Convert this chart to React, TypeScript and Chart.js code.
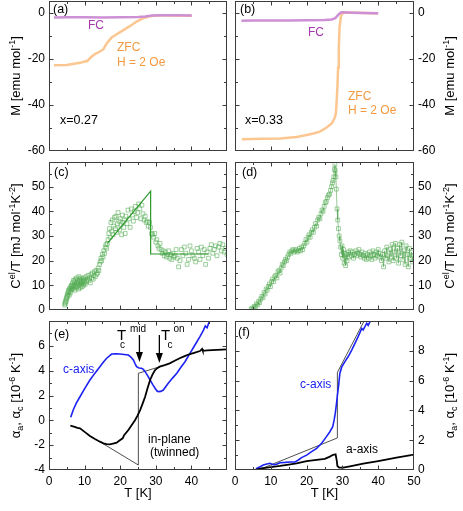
import React, { useEffect, useRef } from "react";
import { Chart, registerables } from "chart.js";

Chart.register(...registerables);

const FONT = "'Liberation Sans', Arial, Helvetica, sans-serif";
const M = 70; // canvas margin around each plot area
const YW = 40; // fixed y-axis box width
const XH = 22; // fixed x-axis box height

// ---------- (a) x = 0.27 magnetization ----------
const aFcT = [1.4, 5, 10, 15, 20, 25, 27, 29, 32, 36, 40.1];
const aFcM = [-2.1, -2.0, -2.0, -2.1, -2.0, -1.9, -1.7, -1.3, -1.2, -1.2, -1.3];
const aZfcT = [1.4, 5.0, 8.7, 10.8, 11.7, 12.9, 14.3, 15.3, 16.2, 17.6, 19.0, 20.9, 22.8, 24.6, 26.5, 28.4, 30.2, 33.0, 36.8, 40.1];
const aZfcM = [-22.8, -22.7, -21.8, -20.9, -19.5, -18.0, -16.9, -15.9, -13.4, -10.8, -9.4, -7.6, -5.8, -3.9, -2.4, -1.6, -1.3, -1.3, -1.4, -1.4];

// ---------- (b) x = 0.33 magnetization ----------
const bFcT = [1.8, 5, 10, 15, 20, 25, 27, 28, 28.5, 29, 29.5, 30, 33, 36, 40];
const bFcM = [-3.6, -3.5, -3.5, -3.4, -3.3, -3.2, -3.0, -2.4, -1.6, -0.7, -0.1, 0.1, -0.1, -0.2, -0.3];
const bZfcT = [1.9, 7.9, 12.6, 17.2, 20.0, 21.9, 23.7, 25.6, 27.0, 27.9, 28.2, 28.4, 28.6, 28.8, 29.0, 29.2, 29.6, 30.3, 34.0, 40.0];
const bZfcM = [-54.9, -54.7, -54.6, -53.9, -53.1, -52.4, -51.6, -49.8, -48.1, -45.5, -43.3, -38.3, -32.5, -23.8, -15.2, -6.5, -1.4, 0, -0.1, -0.4];

// ---------- (c) specific heat x = 0.27 ----------
const cT = [
  4.4, 4.5, 4.6, 4.7, 4.8, 4.9, 5.0, 5.1, 5.2, 5.3, 5.4, 5.5, 5.6, 5.7, 5.8, 5.9, 6.0, 6.1, 6.2, 6.3, 6.4,
  6.5, 6.6, 6.7, 6.8, 6.9, 7.0, 7.1, 7.2, 7.3, 7.4, 7.5, 7.6, 7.7, 7.8, 7.9, 8.0, 8.1, 8.2, 8.3, 8.4,
  8.5, 8.6, 8.7, 8.8, 8.9, 9.0, 9.1, 9.2, 9.3, 9.4, 9.5, 9.6, 9.7, 9.8, 9.9,
  10.0, 10.2, 10.4, 10.6, 10.8, 11.0, 11.2, 11.4, 11.6, 11.8, 12.0, 12.2, 12.4, 12.6, 12.8, 13.0, 13.2, 13.4, 13.6, 13.8,
  14.0, 14.2, 14.4, 14.6, 14.8, 15.0, 15.2, 15.4, 15.6, 15.8, 16.0, 16.2, 16.4,
  16.6, 16.8, 17.0, 17.2, 17.4, 17.6, 17.8, 18.0, 18.2, 18.4, 18.6, 18.8, 19.0, 19.2, 19.4, 19.6, 19.8, 20.0, 20.2, 20.4, 20.6, 20.8, 21.0, 21.2, 21.4,
  21.6, 21.9, 22.2, 22.5, 22.8, 23.1, 23.4, 23.7, 24.0, 24.3, 24.6, 24.9, 25.2, 25.5, 25.8, 26.1, 26.4, 26.7, 27.0, 27.3,
  27.6, 27.9, 28.2, 28.5, 28.8, 29.1, 29.4, 29.7,
  30.0, 30.3, 30.6, 30.9, 31.2, 31.5, 31.8, 32.1, 32.4, 32.7, 33.0, 33.3, 33.6, 33.9, 34.2, 34.5, 34.8, 35.1, 35.4, 35.7,
  36.0, 36.4, 36.8, 37.2, 37.6, 38.0, 38.4, 38.8, 39.2, 39.6, 40.0, 40.4, 40.8, 41.2, 41.6, 42.0, 42.4, 42.8, 43.2, 43.6,
  44.0, 44.4, 44.8, 45.2, 45.6, 46.0, 46.4, 46.8, 47.2, 47.6, 48.0, 48.4, 48.8, 49.2, 49.6, 50.0,
];
const cC = [
  2.0, 3.0, 2.5, 4.0, 3.5, 5.0, 4.5, 6.0, 5.5, 7.0, 6.5, 8.0, 7.5, 6.0, 8.5, 9.0, 7.0, 8.0, 9.5, 10.0, 8.5,
  9.0, 11.0, 10.0, 8.5, 12.0, 9.5, 11.5, 10.5, 8.0, 12.5, 10.0, 9.0, 11.0, 13.0, 10.5, 9.5, 12.0, 11.0, 8.5, 13.5,
  10.0, 12.5, 11.5, 9.0, 10.5, 13.0, 11.0, 12.0, 9.5, 10.5, 12.5, 11.5, 10.0, 13.0, 11.0,
  12.0, 10.5, 13.5, 11.5, 12.5, 14.0, 12.0, 13.0, 11.0, 14.5, 13.0, 15.0, 12.5, 14.0, 15.5, 13.5, 16.0, 14.5, 15.0, 17.0,
  16.0, 18.5, 19.5, 21.0, 20.0, 22.5, 21.5, 24.0, 23.0, 25.5, 26.5, 25.0, 27.0,
  28.5, 31.0, 33.0, 29.5, 35.5, 32.0, 36.5, 30.5, 34.0, 37.5, 33.0, 38.0, 31.5, 35.0, 39.5, 36.0, 32.5, 37.0, 34.5, 30.5, 38.5, 35.5, 33.5, 36.5, 31.0,
  38.0, 35.0, 40.5, 37.0, 33.5, 41.0, 38.5, 36.0, 40.0, 42.0, 37.5, 39.5, 43.0, 41.0, 37.0, 42.5, 39.0, 36.5, 38.0, 35.5,
  36.0, 34.0, 35.5, 33.5, 31.0, 30.5, 29.5, 31.0,
  27.5, 28.5, 26.0, 25.0, 27.0, 24.5, 23.0, 24.0, 22.0, 23.5, 21.5, 22.5, 24.0, 21.0, 22.5, 20.5, 23.0, 21.5, 22.0, 24.5,
  21.0, 17.5, 20.0, 24.5, 22.0, 25.5, 23.0, 18.5, 20.5, 26.0, 24.0, 22.0, 21.0, 19.5, 25.0, 23.5, 20.5, 25.5, 22.0, 24.5,
  18.5, 23.5, 21.0, 25.0, 26.5, 23.0, 24.5, 26.0, 22.0, 25.5, 27.0, 24.0, 26.5, 23.5, 25.0, 22.5,
];
const cFitT = [16.4, 28.55, 28.55, 44.8];
const cFitC = [27.0, 48.2, 22.7, 22.7];

// ---------- (d) specific heat x = 0.33 ----------
const dT = [
  4.5, 4.8, 5.1, 5.4, 5.7, 6.0, 6.3, 6.6, 6.9, 7.2, 7.5, 7.8, 8.1, 8.4, 8.7, 9.0, 9.3, 9.6, 9.9, 10.2,
  10.5, 10.8, 11.1, 11.4, 11.7, 12.0, 12.3, 12.6, 12.9, 13.2, 13.5, 13.8, 14.1, 14.4, 14.7, 15.0, 15.3, 15.6, 15.9, 16.2,
  16.5, 16.8, 17.1, 17.4, 17.7, 18.0, 18.3, 18.6, 18.9, 19.2, 19.5, 19.8, 20.1, 20.4, 20.7, 21.0, 21.3, 21.6, 21.9, 22.2,
  22.5, 22.8, 23.1, 23.4, 23.7, 24.0, 24.3, 24.6, 24.9, 25.2, 25.5, 25.8, 26.1, 26.4, 26.7, 27.0, 27.2, 27.4, 27.6, 27.8,
  27.9, 28.0, 28.2, 28.3, 28.5, 28.7, 28.9, 29.1, 29.3, 29.5, 29.7, 29.9, 30.1, 30.3, 30.5, 30.7, 30.9, 31.1, 31.3, 31.6,
  31.9, 32.2, 32.5, 32.8, 33.1, 33.4, 33.7, 34.0, 34.3, 34.6, 34.9, 35.2, 35.5, 35.8, 36.1, 36.4, 36.7, 37.0, 37.3, 37.6,
  37.9, 38.2, 38.5, 38.8, 39.1, 39.4, 39.7, 40.0, 40.3, 40.6, 40.9, 41.2, 41.5, 41.8, 42.1, 42.4, 42.7, 43.0, 43.3, 43.6,
  43.9, 44.2, 44.5, 44.8, 45.1, 45.4, 45.7, 46.0, 46.3, 46.6, 46.9, 47.2, 47.5, 47.8, 48.1, 48.4, 48.7, 49.0, 49.3, 49.6,
  49.9,
];
const dC = [
  0.3, 0.8, 0.5, 1.5, 1.2, 2.5, 2.0, 3.5, 3.0, 4.5, 5.5, 5.0, 7.0, 6.5, 8.5, 8.0, 9.5, 10.5, 9.5, 11.5,
  12.5, 11.5, 13.5, 14.0, 13.0, 15.5, 16.0, 15.0, 17.0, 18.5, 18.0, 19.5, 20.5, 20.0, 21.5, 22.5, 23.5, 23.0, 24.0, 24.5,
  23.5, 24.0, 24.5, 23.5, 24.0, 25.0, 24.0, 25.5, 24.5, 26.0, 27.0, 28.5, 27.5, 29.5, 30.5, 29.5, 31.5, 32.5, 31.5, 33.5,
  35.0, 34.0, 36.5, 37.5, 37.0, 39.0, 40.5, 40.0, 42.0, 43.5, 44.0, 45.5, 46.5, 47.0, 48.5, 50.0, 51.5, 52.5, 54.0, 57.0,
  59.0, 56.5, 54.0, 49.0, 41.0, 36.5, 33.0, 30.0, 28.0, 25.5, 22.5, 26.0, 21.0, 24.5, 19.0, 23.0, 18.0, 22.5, 20.0, 23.5,
  21.5, 24.0, 22.0, 23.5, 21.0, 22.5, 24.0, 22.0, 23.0, 24.5, 22.5, 21.5, 23.5, 22.0, 21.0, 23.0, 20.5, 22.5, 21.0, 23.5,
  22.0, 20.5, 24.0, 22.5, 21.0, 23.5, 22.0, 24.5, 21.5, 23.0, 20.0, 22.5, 17.5, 24.0, 21.0, 25.5, 22.0, 19.5, 24.5, 21.5,
  26.5, 20.0, 23.5, 27.0, 21.0, 25.0, 19.0, 26.5, 22.0, 27.5, 20.5, 24.0, 18.5, 26.0, 22.5, 17.5, 25.0, 21.0, 23.5, 19.5,
  22.0,
];

// ---------- (e) thermal expansion x = 0.27 ----------
const eCT = [6.1, 6.8, 7.7, 8.7, 10.1, 11.5, 12.9, 14.3, 15.3, 16.2, 17.6, 18.8, 19.9, 21.1, 22.3, 23.0, 23.7, 24.2, 24.6, 25.3, 26.0, 26.5, 27.0, 27.7, 28.4, 29.1, 29.8, 30.3, 30.7, 31.4, 32.1, 33.5, 34.7, 35.9, 37.0, 38.2, 39.6, 41.0, 42.4, 43.4, 43.9, 44.4, 45.2];
const eCA = [0.24, 0.83, 1.4, 1.9, 2.6, 3.25, 3.8, 4.32, 4.7, 5.0, 5.34, 5.36, 5.34, 5.3, 5.26, 5.1, 4.86, 4.55, 4.32, 4.22, 4.19, 4.1, 3.92, 3.6, 3.25, 2.9, 2.58, 2.38, 2.31, 2.33, 2.44, 2.98, 3.4, 3.79, 4.25, 4.72, 5.4, 6.07, 6.74, 7.27, 7.6, 7.45, 8.1];
const eAT = [6.0, 7.0, 8.0, 8.7, 10.1, 11.5, 12.9, 14.3, 15.3, 16.2, 17.1, 18.0, 19.0, 19.9, 20.7, 21.1, 22.3, 23.2, 24.2, 24.9, 25.6, 26.3, 27.0, 27.7, 28.4, 29.1, 29.8, 30.4, 31.1, 32.5, 33.9, 35.3, 36.7, 38.1, 39.6, 41.0, 42.4, 43.0, 43.2, 44.5, 45.8, 47.2, 48.6, 50.0];
const eAA = [-0.43, -0.5, -0.6, -0.64, -0.95, -1.26, -1.5, -1.72, -1.85, -1.91, -1.93, -1.87, -1.8, -1.6, -1.45, -1.2, -0.78, -0.4, 0.03, 0.4, 0.83, 1.35, 1.9, 2.6, 3.25, 3.7, 4.05, 4.2, 4.32, 4.45, 4.59, 4.8, 5.0, 5.17, 5.34, 5.46, 5.58, 5.75, 5.6, 5.63, 5.66, 5.68, 5.7, 5.72];
const eFitT = [15.0, 25.1, 25.1, 31.2];
const eFitA = [-1.85, -3.6, 3.79, 4.32];
const eArrowT = [25.4, 31.0];
const eArrowTop = [6.87, 6.87];
const eArrowTip = [4.7, 4.62];

// ---------- (f) thermal expansion x = 0.33 ----------
const fCT = [6.0, 7.0, 7.9, 8.9, 9.8, 10.7, 11.6, 12.6, 14.0, 15.4, 16.8, 17.7, 18.6, 20.0, 21.4, 22.8, 24.2, 25.4, 26.5, 27.3, 27.7, 28.0, 28.3, 28.6, 29.0, 29.3, 29.8, 30.7, 31.6, 32.6, 33.5, 34.4, 35.4, 35.8, 36.8, 37.2, 38.2];
const fCA = [0.11, 0.22, 0.34, 0.4, 0.45, 0.36, 0.38, 0.49, 0.51, 0.54, 0.54, 0.67, 0.83, 1.0, 1.23, 1.45, 1.79, 2.19, 2.57, 2.91, 3.36, 3.8, 4.36, 5.0, 5.8, 6.5, 6.9, 7.27, 7.6, 8.05, 8.5, 8.95, 9.5, 9.4, 9.85, 9.7, 10.2];
const fAT = [5.8, 7.9, 10.0, 12.6, 15.0, 17.2, 20.0, 22.8, 25.1, 26.5, 27.4, 28.1, 28.4, 28.6, 29.1, 30.2, 32.1, 35.8, 40.0, 45.1, 50.0];
const fAA = [0.05, 0.12, 0.2, 0.27, 0.36, 0.45, 0.6, 0.68, 0.75, 0.9, 1.02, 1.05, 0.67, 0.27, 0.16, 0.16, 0.25, 0.43, 0.6, 0.83, 1.03];
const fFitT = [7.0, 28.6, 28.6, 36.5];
const fFitA = [0.05, 2.15, 6.55, 10.2];

// ---------- axis ticks ----------
const magTicks = [-60, -40, -20, 0];
const heatTicks = [0, 10, 20, 30, 40, 50];
const eTicks = [-4, -2, 0, 2, 4, 6];
const fTicks = [0, 2, 4, 6, 8];

// ---------- colours ----------
const PURPLE_LINE = "#cd90d5";
const PURPLE_TEXT = "#a23aab";
const ORANGE_LINE = "#fcc690";
const ORANGE_TEXT = "#f49a40";
const GREEN_LINE = "#2c982c";
const GREEN_PT = "rgba(80,170,80,0.7)";
const BLUE = "#1c22f2";
const FRAME = "#3c3c3c";

const pts = (xs: number[], ys: number[]) => xs.map((x, i) => ({ x, y: ys[i] }));

function line(xs: number[], ys: number[], color: string, width: number) {
  return {
    data: pts(xs, ys),
    showLine: true,
    borderColor: color,
    backgroundColor: color,
    borderWidth: width,
    pointRadius: 0,
    tension: 0,
  };
}

type Seg = [string, number, number];
const n = (t: string): Seg => [t, 13, 0];
const sup = (t: string): Seg => [t, 9, -5];
const sub = (t: string): Seg => [t, 9, 3];
const TITLE_M: Seg[] = [n("M [emu mol"), sup("-1"), n("]")];
const TITLE_C: Seg[] = [n("C"), sup("el"), n("/T [mJ mol"), sup("-1"), n("K"), sup("-2"), n("]")];
const TITLE_A: Seg[] = [n("\u03b1"), sub("a"), n(", \u03b1"), sub("c"), n(" [10"), sup("-6"), n(" K"), sup("-1"), n("]")];

type Txt = { t: string; x: number; y: number; size: number; color?: string; base?: CanvasTextBaseline };

interface Spec {
  id: string;
  box: [number, number, number, number];
  side: "left" | "right";
  yMin: number;
  yMax: number;
  yLabels: number[];
  yMinor: number;
  yMajor: number;
  xLabels: boolean;
  hide50?: boolean;
  datasets: any[];
  texts: Txt[];
  arrows?: { x: number[]; top: number[]; tip: number[] };
  yTitle: Seg[];
}

function drawRich(ctx: CanvasRenderingContext2D, segs: Seg[], x: number, y: number) {
  let w = 0;
  for (const s of segs) {
    ctx.font = `${s[1]}px ${FONT}`;
    w += ctx.measureText(s[0]).width;
  }
  let cx = x - w / 2;
  for (const s of segs) {
    ctx.font = `${s[1]}px ${FONT}`;
    ctx.fillText(s[0], cx, y + s[2]);
    cx += ctx.measureText(s[0]).width;
  }
}

function panelPlugin(spec: Spec) {
  return {
    id: "panel_" + spec.id,
    afterDatasetsDraw(chart: any) {
      const { ctx, chartArea: a, scales } = chart;
      const xs = scales.x;
      const ys = scales.y;
      ctx.save();
      if (spec.arrows) {
        const ar = spec.arrows;
        ctx.strokeStyle = "#000";
        ctx.fillStyle = "#000";
        ctx.lineWidth = 1.3;
        ar.x.forEach((xv, i) => {
          const px = xs.getPixelForValue(xv);
          const p0 = ys.getPixelForValue(ar.top[i]);
          const p1 = ys.getPixelForValue(ar.tip[i]);
          ctx.beginPath();
          ctx.moveTo(px, p0);
          ctx.lineTo(px, p1 - 7);
          ctx.stroke();
          ctx.beginPath();
          ctx.moveTo(px - 3.5, p1 - 10);
          ctx.lineTo(px + 3.5, p1 - 10);
          ctx.lineTo(px, p1);
          ctx.closePath();
          ctx.fill();
        });
      }
      ctx.strokeStyle = FRAME;
      ctx.lineWidth = 1;
      const L = Math.round(a.left) + 0.5;
      const R = Math.round(a.right) - 0.5;
      const T = Math.round(a.top) + 0.5;
      const B = Math.round(a.bottom) - 0.5;
      ctx.strokeRect(L, T, R - L, B - T);
      ctx.beginPath();
      for (let v = 5; v < 50; v += 5) {
        const len = v % 10 === 0 ? 4 : 2.5;
        const p = Math.round(xs.getPixelForValue(v)) + 0.5;
        ctx.moveTo(p, B);
        ctx.lineTo(p, B - len);
        ctx.moveTo(p, T);
        ctx.lineTo(p, T + len);
      }
      for (let v = spec.yMin + spec.yMinor; v < spec.yMax - 1e-9; v += spec.yMinor) {
        const major = Math.abs(Math.round(v / spec.yMajor) * spec.yMajor - v) < 1e-6;
        const len = major ? 4 : 2.5;
        const p = Math.round(ys.getPixelForValue(v)) + 0.5;
        ctx.moveTo(L, p);
        ctx.lineTo(L + len, p);
        ctx.moveTo(R, p);
        ctx.lineTo(R - len, p);
      }
      ctx.stroke();
      ctx.restore();
    },
    afterDraw(chart: any) {
      const { ctx, chartArea: a } = chart;
      const ox = spec.box[0] - M;
      const oy = spec.box[1] - M;
      ctx.save();
      ctx.textAlign = "left";
      for (const t of spec.texts) {
        ctx.font = `${t.size}px ${FONT}`;
        ctx.fillStyle = t.color || "#000";
        ctx.textBaseline = t.base || "middle";
        ctx.fillText(t.t, t.x - ox, t.y - oy);
      }
      ctx.fillStyle = "#000";
      ctx.textBaseline = "alphabetic";
      const bx = spec.side === "left" ? a.left - 29 : a.right + 40;
      const cy = (a.top + a.bottom) / 2;
      ctx.save();
      ctx.translate(bx, cy);
      ctx.rotate(-Math.PI / 2);
      drawRich(ctx, spec.yTitle, 0, 0);
      ctx.restore();
      if (spec.xLabels) {
        ctx.font = `13px ${FONT}`;
        ctx.textAlign = "center";
        ctx.textBaseline = "middle";
        ctx.fillText("T [K]", (a.left + a.right) / 2, a.bottom + 23);
      }
      ctx.restore();
    },
  };
}

function buildConfig(spec: Spec): any {
  const left = spec.side === "left";
  const tickFont = { family: FONT, size: 12 };
  const xScale: any = {
    type: "linear",
    min: 0,
    max: 50,
    display: spec.xLabels,
    position: "bottom",
    grid: { display: false, drawTicks: false },
    border: { display: false },
    ticks: {
      stepSize: 10,
      font: tickFont,
      color: "#000",
      padding: 4,
      maxRotation: 0,
      autoSkip: false,
      callback: (v: number) => (spec.hide50 && v === 50 ? "" : String(v)),
    },
  };
  if (spec.xLabels) {
    xScale.afterFit = (s: any) => {
      s.height = XH;
    };
  }
  return {
    type: "scatter",
    data: { datasets: spec.datasets },
    options: {
      responsive: false,
      animation: false,
      events: [],
      layout: {
        padding: {
          left: left ? M - YW : M,
          right: left ? M : M - YW,
          top: M,
          bottom: spec.xLabels ? M - XH : M,
        },
      },
      plugins: { legend: { display: false }, tooltip: { enabled: false }, title: { display: false } },
      scales: {
        x: xScale,
        y: {
          type: "linear",
          min: spec.yMin,
          max: spec.yMax,
          position: spec.side,
          grid: { display: false, drawTicks: false },
          border: { display: false },
          ticks: { font: tickFont, color: "#000", padding: 4, autoSkip: false, callback: (v: number) => String(v) },
          afterBuildTicks: (s: any) => {
            s.ticks = spec.yLabels.map((v) => ({ value: v }));
          },
          afterFit: (s: any) => {
            s.width = YW;
          },
        },
      },
    },
    plugins: [panelPlugin(spec)],
  };
}

const squares = (xs: number[], ys: number[], withLine: boolean) => ({
  data: pts(xs, ys),
  showLine: withLine,
  borderColor: "rgba(60,150,60,0.75)",
  borderWidth: 0.7,
  pointStyle: "rect",
  pointRadius: 2.7,
  pointBorderWidth: 0.8,
  pointBorderColor: GREEN_PT,
  pointBackgroundColor: "rgba(0,0,0,0)",
  tension: 0,
});

const specs: Spec[] = [
  {
    id: "a",
    box: [49, 1, 227, 151],
    side: "left",
    yMin: -60,
    yMax: 5,
    yLabels: magTicks,
    yMinor: 10,
    yMajor: 20,
    xLabels: false,
    datasets: [line(aFcT, aFcM, PURPLE_LINE, 2.5), line(aZfcT, aZfcM, ORANGE_LINE, 2.5)],
    texts: [
      { t: "(a)", x: 53, y: 10, size: 12.5 },
      { t: "FC", x: 88, y: 26, size: 12, color: PURPLE_TEXT },
      { t: "ZFC", x: 117, y: 48, size: 12, color: ORANGE_TEXT },
      { t: "H = 2 Oe", x: 117, y: 63, size: 12, color: ORANGE_TEXT },
      { t: "x=0.27", x: 60, y: 121, size: 12.5 },
    ],
    yTitle: TITLE_M,
  },
  {
    id: "b",
    box: [235, 1, 414, 151],
    side: "right",
    yMin: -60,
    yMax: 5,
    yLabels: magTicks,
    yMinor: 10,
    yMajor: 20,
    xLabels: false,
    datasets: [line(bFcT, bFcM, PURPLE_LINE, 2.5), line(bZfcT, bZfcM, ORANGE_LINE, 2.5)],
    texts: [
      { t: "(b)", x: 240, y: 10, size: 12.5 },
      { t: "FC", x: 308, y: 32.5, size: 12, color: PURPLE_TEXT },
      { t: "ZFC", x: 348, y: 97, size: 12, color: ORANGE_TEXT },
      { t: "H = 2 Oe", x: 348, y: 111, size: 12, color: ORANGE_TEXT },
      { t: "x=0.33", x: 245, y: 121, size: 12.5 },
    ],
    yTitle: TITLE_M,
  },
  {
    id: "c",
    box: [49, 162, 227, 310],
    side: "left",
    yMin: 0,
    yMax: 60,
    yLabels: heatTicks,
    yMinor: 5,
    yMajor: 10,
    xLabels: false,
    datasets: [line(cFitT, cFitC, GREEN_LINE, 1.2), squares(cT, cC, false)],
    texts: [{ t: "(c)", x: 54, y: 173, size: 12.5 }],
    yTitle: TITLE_C,
  },
  {
    id: "d",
    box: [235, 162, 414, 310],
    side: "right",
    yMin: 0,
    yMax: 60,
    yLabels: heatTicks,
    yMinor: 5,
    yMajor: 10,
    xLabels: false,
    datasets: [squares(dT, dC, true)],
    texts: [{ t: "(d)", x: 242, y: 173, size: 12.5 }],
    yTitle: TITLE_C,
  },
  {
    id: "e",
    box: [49, 321, 227, 470],
    side: "left",
    yMin: -4,
    yMax: 8,
    yLabels: eTicks,
    yMinor: 1,
    yMajor: 2,
    xLabels: true,
    hide50: true,
    datasets: [line(eAT, eAA, "#000", 1.8), line(eCT, eCA, BLUE, 1.6), line(eFitT, eFitA, "#222", 0.8)],
    arrows: { x: eArrowT, top: eArrowTop, tip: eArrowTip },
    texts: [
      { t: "(e)", x: 54, y: 335, size: 12.5 },
      { t: "c-axis", x: 63, y: 370, size: 12, color: BLUE },
      { t: "in-plane", x: 148, y: 440, size: 12 },
      { t: "(twinned)", x: 150, y: 453, size: 12 },
      { t: "T", x: 117, y: 340, size: 15, base: "alphabetic" },
      { t: "c", x: 120, y: 348, size: 10, base: "alphabetic" },
      { t: "mid", x: 130, y: 332, size: 10, base: "alphabetic" },
      { t: "T", x: 161, y: 340, size: 15, base: "alphabetic" },
      { t: "c", x: 167.5, y: 348, size: 10, base: "alphabetic" },
      { t: "on", x: 173.5, y: 332, size: 10, base: "alphabetic" },
    ],
    yTitle: TITLE_A,
  },
  {
    id: "f",
    box: [235, 321, 414, 470],
    side: "right",
    yMin: 0,
    yMax: 10,
    yLabels: fTicks,
    yMinor: 1,
    yMajor: 2,
    xLabels: true,
    datasets: [line(fCT, fCA, BLUE, 1.6), line(fAT, fAA, "#000", 1.8), line(fFitT, fFitA, "#222", 0.8)],
    texts: [
      { t: "(f)", x: 238, y: 333, size: 12.5 },
      { t: "c-axis", x: 300, y: 385, size: 12, color: BLUE },
      { t: "a-axis", x: 346, y: 450, size: 12 },
    ],
    yTitle: TITLE_A,
  },
];

function Panel({ spec }: { spec: Spec }) {
  const ref = useRef<HTMLCanvasElement>(null);
  const [l, t, r, b] = spec.box;
  const w = r - l + 2 * M;
  const h = b - t + 2 * M;
  useEffect(() => {
    const chart = new Chart(ref.current as HTMLCanvasElement, buildConfig(spec));
    return () => chart.destroy();
  }, [spec]);
  return (
    <div style={{ position: "absolute", left: l - M, top: t - M, width: w, height: h }}>
      <canvas ref={ref} width={w} height={h} style={{ display: "block", width: w, height: h }} />
    </div>
  );
}

export default function App() {
  return (
    <div
      style={{
        position: "absolute",
        left: 0,
        top: 0,
        width: 463,
        height: 511,
        overflow: "hidden",
        background: "#fff",
      }}
    >
      {specs.map((s) => (
        <Panel key={s.id} spec={s} />
      ))}
    </div>
  );
}
